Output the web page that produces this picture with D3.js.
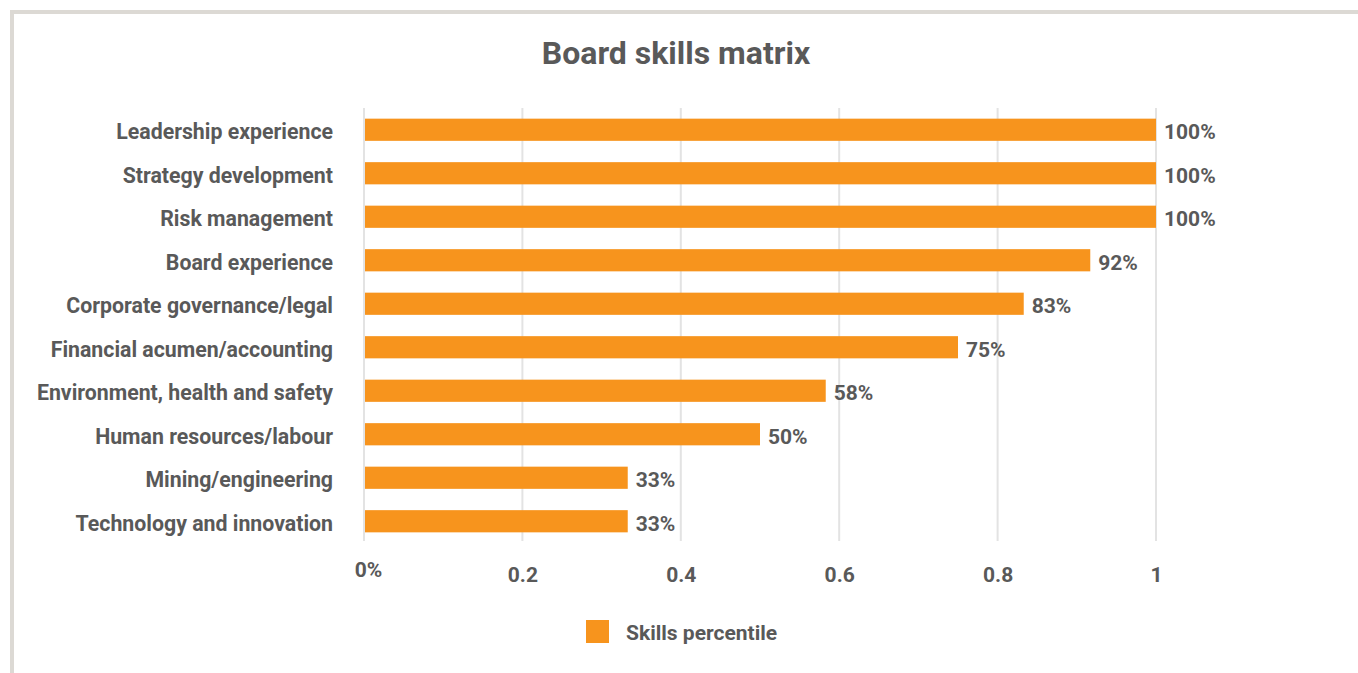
<!DOCTYPE html>
<html><head><meta charset="utf-8">
<script src="https://cdn.jsdelivr.net/npm/d3@7"></script>
<style>body{margin:0;background:#fff;}svg{display:block;font-family:Roboto,"Noto Sans",sans-serif;}</style>
</head><body>
<svg id="c" width="1358" height="673"></svg>
<script>
const categories = ["Leadership experience","Strategy development","Risk management","Board experience","Corporate governance/legal","Financial acumen/accounting","Environment, health and safety","Human resources/labour","Mining/engineering","Technology and innovation"];
const values = [1.00,1.00,1.00,0.917,0.833,0.75,0.583,0.50,0.333,0.333];
const tickValues = [0,0.2,0.4,0.6,0.8,1];
const tickLabels = ["0%","0.2","0.4","0.6","0.8","1"];
const seriesName = "Skills percentile";
const title = "Board skills matrix";

const svg = d3.select("#c");
const textColor = "#595959", barColor = "#F7941D", gridColor = "#e3e3e3";

// frame
svg.append("line").attr("x1",10).attr("x2",1358).attr("y1",12).attr("y2",12).attr("stroke","#dcd9d4").attr("stroke-width",4);
svg.append("line").attr("x1",12).attr("x2",12).attr("y1",10).attr("y2",673).attr("stroke","#dcd9d4").attr("stroke-width",4);

const x = d3.scaleLinear().domain([0,1]).range([364,1156]);
const y = d3.scaleBand().domain(categories).range([108,543]).paddingInner(0.49).paddingOuter(0.245);

// grid
svg.append("g").selectAll("line").data(tickValues).join("line")
  .attr("x1",d=>x(d)).attr("x2",d=>x(d)).attr("y1",108).attr("y2",541)
  .attr("stroke",gridColor).attr("stroke-width",2);

// bars
svg.append("g").selectAll("rect").data(values).join("rect")
  .attr("x",x(0)+1).attr("y",(d,i)=>y(categories[i]))
  .attr("width",d=>x(d)-x(0)-1).attr("height",y.bandwidth())
  .attr("fill",barColor);

// value labels
svg.append("g").selectAll("text").data(values).join("text")
  .attr("x",d=>x(d)+8).attr("y",(d,i)=>y(categories[i])+y.bandwidth()/2+2)
  .attr("dy","0.35em").attr("fill",textColor).attr("font-size",21).attr("font-weight","bold")
  .text(d=>Math.round(d*100)+"%");

// category axis labels
svg.append("g").selectAll("text").data(categories).join("text")
  .attr("x",333).attr("y",d=>y(d)+y.bandwidth()/2+2)
  .attr("dy","0.35em").attr("text-anchor","end").attr("fill",textColor)
  .attr("font-size",21.3).attr("font-weight","bold").text(d=>d);

// x axis
const xAxis = d3.axisBottom(x).tickValues(tickValues).tickFormat((d,i)=>tickLabels[i]).tickSize(0).tickPadding(0);
const gx = svg.append("g").attr("transform","translate(0,575)").call(xAxis);
gx.select(".domain").remove();
gx.selectAll("text").attr("fill",textColor).attr("font-size",21).attr("font-weight","bold")
  .attr("font-family","Roboto,'Noto Sans',sans-serif").attr("dy","0.35em").attr("y",0)
  .attr("dx",(d,i)=>i===0?4:0)
  .attr("transform",(d,i)=>i===0?"translate(0,-5)":null);

// title
svg.append("text").attr("x",676).attr("y",53).attr("dy","0.35em").attr("text-anchor","middle")
  .attr("fill",textColor).attr("font-size",32).attr("font-weight","bold").text(title);

// legend
svg.append("rect").attr("x",586).attr("y",620).attr("width",23).attr("height",23).attr("fill",barColor);
svg.append("text").attr("x",626).attr("y",633).attr("dy","0.35em").attr("fill",textColor)
  .attr("font-size",21).attr("font-weight","bold").text(seriesName);
</script>
</body></html>
